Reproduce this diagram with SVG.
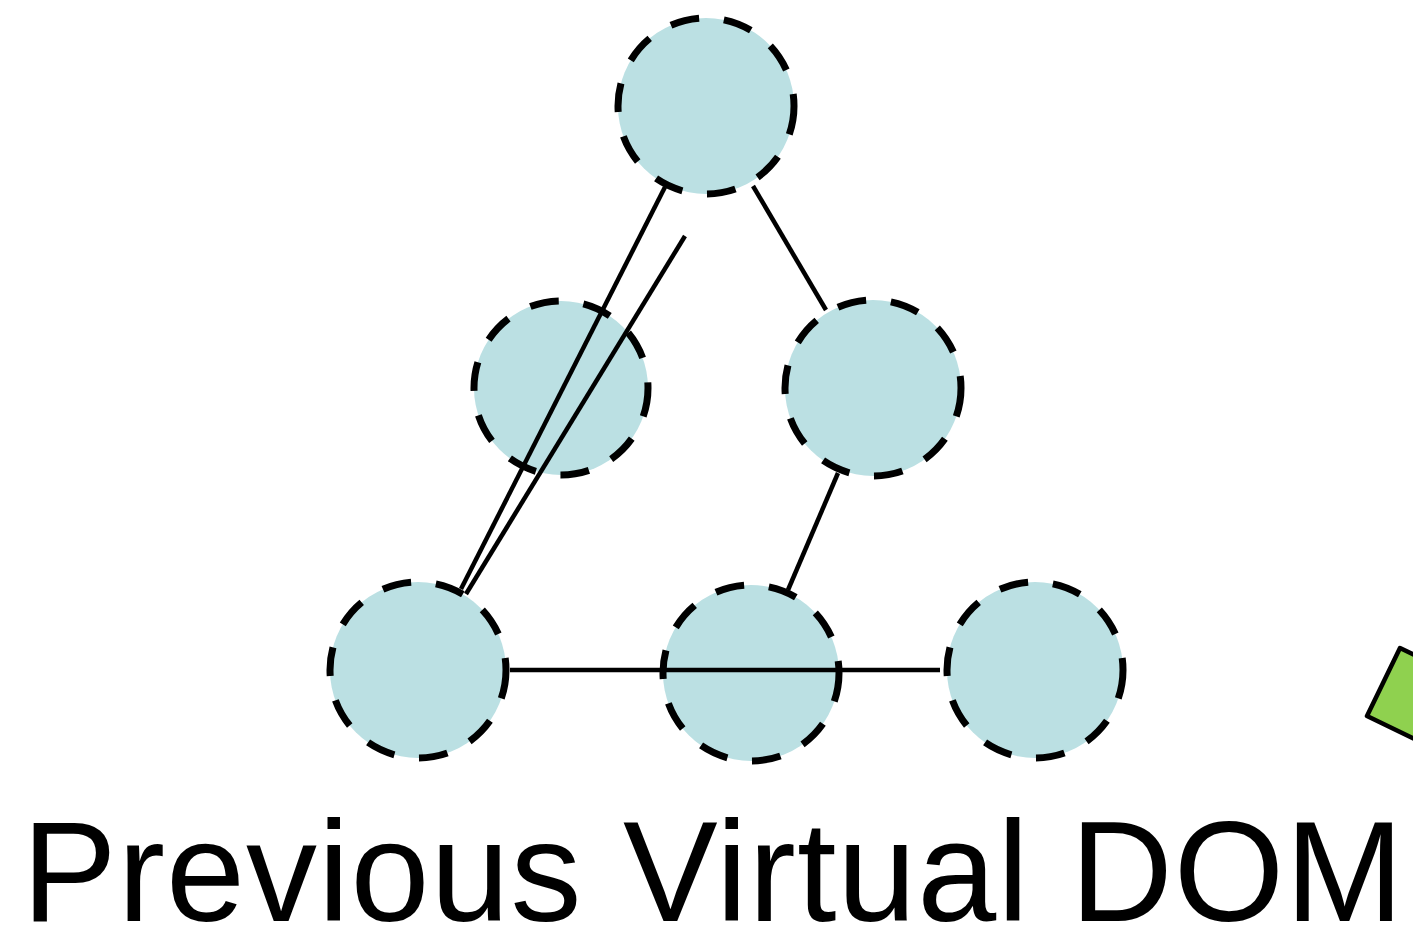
<svg xmlns="http://www.w3.org/2000/svg" width="1413" height="941" viewBox="0 0 1413 941">
<style>
.node{fill:#BBE0E3;stroke:#000;stroke-width:7;stroke-dasharray:29 25}
.edge{stroke:#000;stroke-width:4.5;fill:none}
.label{font-family:"Liberation Sans",Arial,sans-serif;font-size:142px;letter-spacing:1px;fill:#000}
</style>
<rect width="1413" height="941" fill="#fff"/>
<g id="shape-green"><polygon points="1400,648 1367,716 1450,756 1483,688" fill="#8FD14F" stroke="#000" stroke-width="4.5" stroke-linejoin="round"/></g>
<g id="n-top"><circle class="node" cx="706" cy="106" r="88"/></g>
<g id="n-midleft"><circle class="node" cx="561" cy="388" r="87"/></g>
<g id="n-midright"><circle class="node" cx="873" cy="388" r="88"/></g>
<g id="n-botleft"><circle class="node" cx="418" cy="670" r="88"/></g>
<g id="n-botmid"><circle class="node" cx="751" cy="673" r="88"/></g>
<g id="n-botright"><circle class="node" cx="1035" cy="670" r="88"/></g>
<g id="connectors">
<line class="edge" x1="665" y1="187" x2="461" y2="589"/>
<line class="edge" x1="685" y1="236" x2="466" y2="594"/>
<line class="edge" x1="753" y1="186" x2="826" y2="310"/>
<line class="edge" x1="838" y1="473" x2="788" y2="590"/>
<line class="edge" x1="510" y1="670" x2="940" y2="670"/>
</g>
<text class="label" x="22" y="921">Previous Virtual DOM</text>
</svg>
